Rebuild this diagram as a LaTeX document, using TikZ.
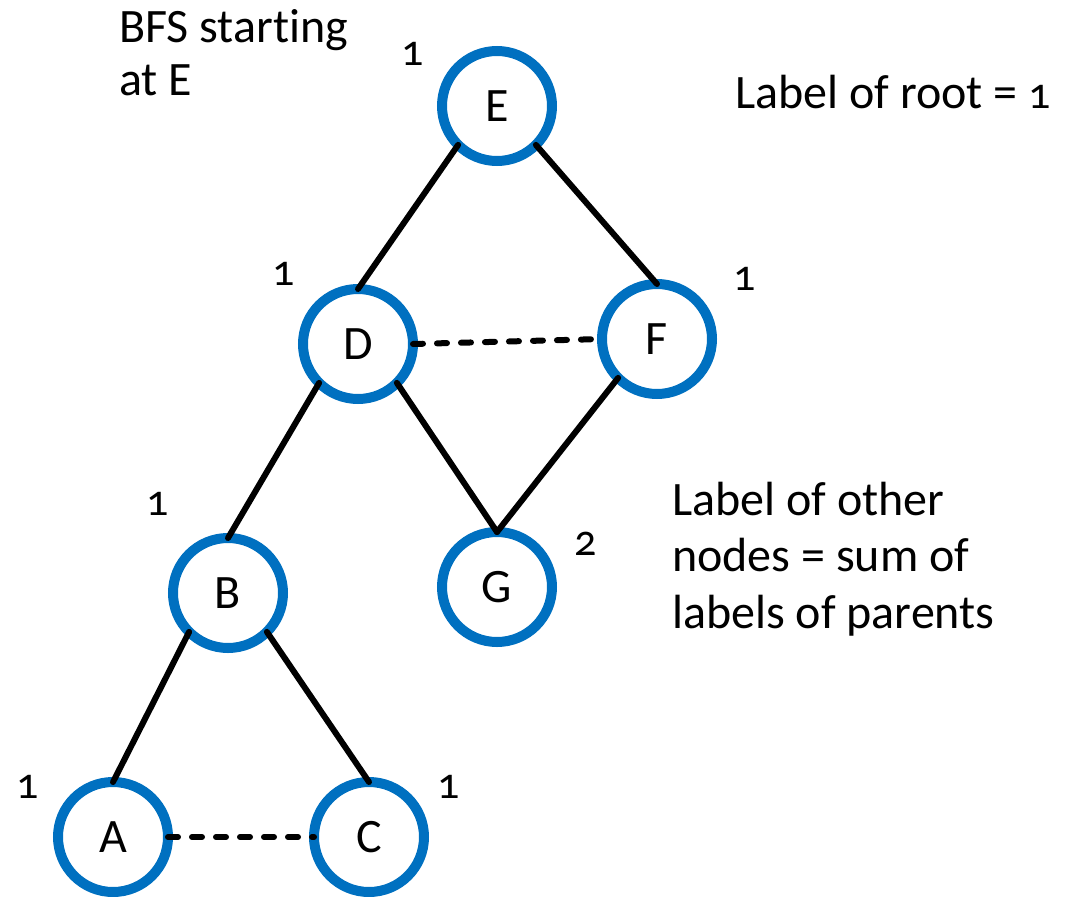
\documentclass[tikz,border=0pt]{standalone}
\usepackage{fontspec}
\setmainfont{Carlito}[Ligatures=NoCommon]
\newfontfamily\numfont{Carlito}[Numbers=OldStyle]
\begin{document}
\begin{tikzpicture}[x=1pt,y=-1pt,
  vertex/.style={circle,draw={rgb,255:red,0;green,112;blue,192},line width=10pt,minimum size=110pt,inner sep=0pt,outer sep=0pt,font=\fontsize{48}{56}\selectfont},
  edge/.style={line width=6pt,line cap=round},
  nontree/.style={edge,dash pattern=on 10pt off 14pt},
  cnt/.style={anchor=base,inner sep=0pt,font=\fontsize{44}{52}\selectfont\numfont},
  note/.style={anchor=base west,inner sep=0pt,align=left}]
\useasboundingbox (0,0) rectangle (1066,897);
\node[vertex] (E) at (497,106) {E};
\node[vertex] (D) at (358,344) {D};
\node[vertex] (F) at (657,339) {F};
\node[vertex] (B) at (228,593) {B};
\node[vertex] (G) at (497,587) {G};
\node[vertex] (A) at (113,837) {A};
\node[vertex] (C) at (369,837) {C};
\draw[edge] (E.south west) -- (D.north);
\draw[edge] (E.south east) -- (F.north);
\draw[edge] (D.south west) -- (B.north);
\draw[edge] (D.south east) -- (G.north);
\draw[edge] (F.south west) -- (G.north);
\draw[edge] (B.south west) -- (A.north);
\draw[edge] (B.south east) -- (C.north);
\draw[nontree] (D.east) -- (F.west);
\draw[nontree] (A.east) -- (C.west);
\node[cnt] (nE) at (413,65) {1};
\node[cnt] (nD) at (284,285) {1};
\node[cnt] (nF) at (745,290) {1};
\node[cnt] (nB) at (158,515) {1};
\node[cnt] (nG) at (586,555) {2};
\node[cnt] (nA) at (28,798) {1};
\node[cnt] (nC) at (449,798) {1};
\node[note,font=\fontsize{48}{53}\selectfont] (t1) at (119,95) {BFS starting\\at E};
\node[note,font=\fontsize{48}{56}\selectfont] (t2) at (735,108) {Label of root = {\fontsize{44}{52}\selectfont\numfont 1}};
\node[note,font=\fontsize{48}{56.5}\selectfont] (t3) at (672,628) {Label of other\\nodes = sum of\\labels of parents};
\end{tikzpicture}
\end{document}
